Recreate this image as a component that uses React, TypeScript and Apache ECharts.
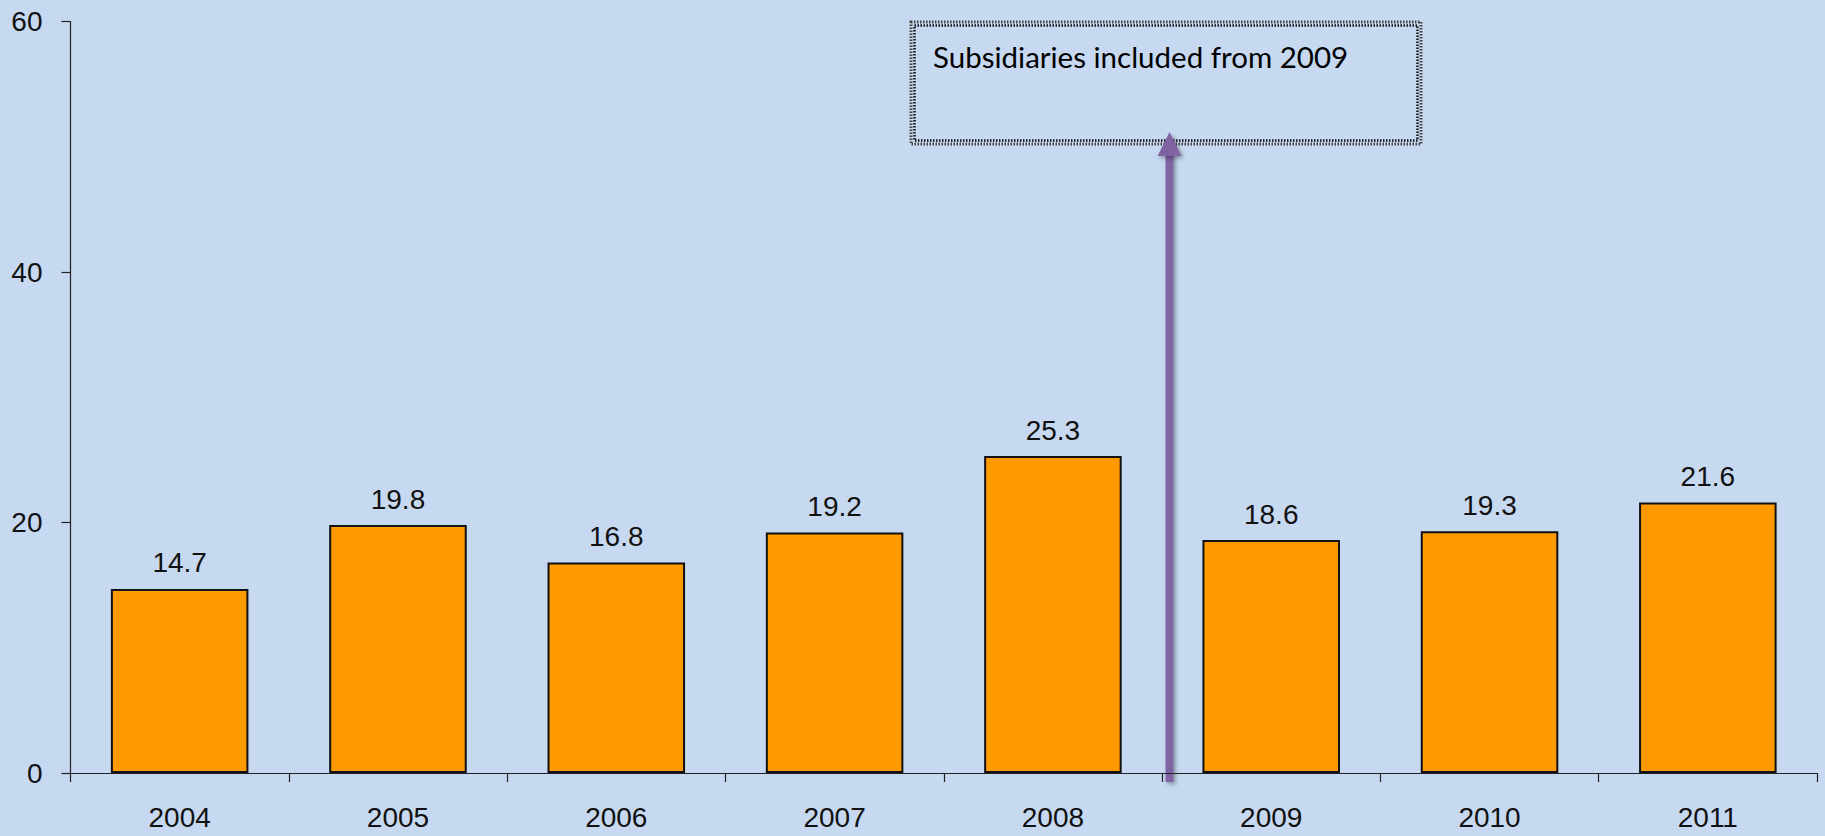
import React, { useEffect, useRef } from "react";
import * as echarts from "echarts";

const categories = ["2004", "2005", "2006", "2007", "2008", "2009", "2010", "2011"];
const values = [14.7, 19.8, 16.8, 19.2, 25.3, 18.6, 19.3, 21.6];
const annotationText = "Subsidiaries included from 2009";

const W = 1825;
const H = 836;
const GRID_LEFT = 70.5;
const GRID_RIGHT = 8;
const GRID_TOP = 21.5;
const GRID_BOTTOM = 63;

export default function App() {
  const ref = useRef<HTMLDivElement>(null);
  useEffect(() => {
    document.body.style.margin = "0";
    const chart = echarts.init(ref.current!, null, { renderer: "svg" });
    const catW = (W - GRID_LEFT - GRID_RIGHT) / categories.length;
    const arrowX = GRID_LEFT + 5 * catW + 7.5;
    const axisColor = "#222";
    const font = "'Liberation Sans', Arial, sans-serif";
    const purple = "#8064A2";
    const bg = "#C6D9F0";
    chart.setOption({
      animation: false,
      backgroundColor: bg,
      grid: { left: GRID_LEFT, right: GRID_RIGHT, top: GRID_TOP, bottom: GRID_BOTTOM, containLabel: false },
      xAxis: {
        type: "category",
        data: categories,
        axisLine: { lineStyle: { color: axisColor, width: 1.2 } },
        axisTick: { show: true, length: 9, lineStyle: { color: axisColor, width: 1.2 } },
        axisLabel: { color: "#111", fontSize: 28, fontFamily: font, margin: 30 },
      },
      yAxis: {
        type: "value",
        min: 0,
        max: 60,
        interval: 20,
        splitLine: { show: false },
        axisLine: { show: true, lineStyle: { color: axisColor, width: 1.2 } },
        axisTick: { show: true, length: 9, lineStyle: { color: axisColor, width: 1.2 } },
        axisLabel: { color: "#111", fontSize: 28, fontFamily: font, margin: 28 },
      },
      series: [
        {
          type: "bar",
          data: values,
          barWidth: "63%",
          itemStyle: { color: "#FF9900", borderColor: "#111", borderWidth: 2 },
          label: {
            show: true,
            position: "top",
            distance: 12,
            color: "#111",
            fontSize: 28,
            fontFamily: font,
            formatter: (p: any) => p.value.toFixed(1),
          },
        },
      ],
      graphic: [
        {
          type: "rect",
          shape: { x: 911, y: 22, width: 510, height: 122 },
          style: { fill: bg, stroke: "#444", lineWidth: 3, lineDash: [1.5, 1.5] },
        },
        {
          type: "rect",
          shape: { x: 914.5, y: 25.5, width: 503, height: 115 },
          style: { fill: "none", stroke: "#111", lineWidth: 2.5, lineDash: [1.5, 1.5] },
        },
        {
          type: "text",
          x: 933,
          y: 56,
          style: {
            text: annotationText,
            fontSize: 29.5,
            fontFamily: "Lato, 'Open Sans', sans-serif",
            fill: "#000",
            verticalAlign: "middle",
          },
        },
        {
          type: "rect",
          shape: { x: arrowX - 4, y: 150, width: 8, height: 632 },
          style: { fill: purple, shadowBlur: 4, shadowColor: "rgba(0,0,0,0.35)", shadowOffsetX: 2, shadowOffsetY: 2 },
        },
        {
          type: "polygon",
          shape: { points: [[arrowX - 12, 156], [arrowX, 132], [arrowX + 12, 156]] },
          style: { fill: purple, shadowBlur: 4, shadowColor: "rgba(0,0,0,0.35)", shadowOffsetX: 2, shadowOffsetY: 2 },
        },
      ],
    });
    return () => chart.dispose();
  }, []);
  return <div ref={ref} style={{ width: W, height: H }} />;
}
